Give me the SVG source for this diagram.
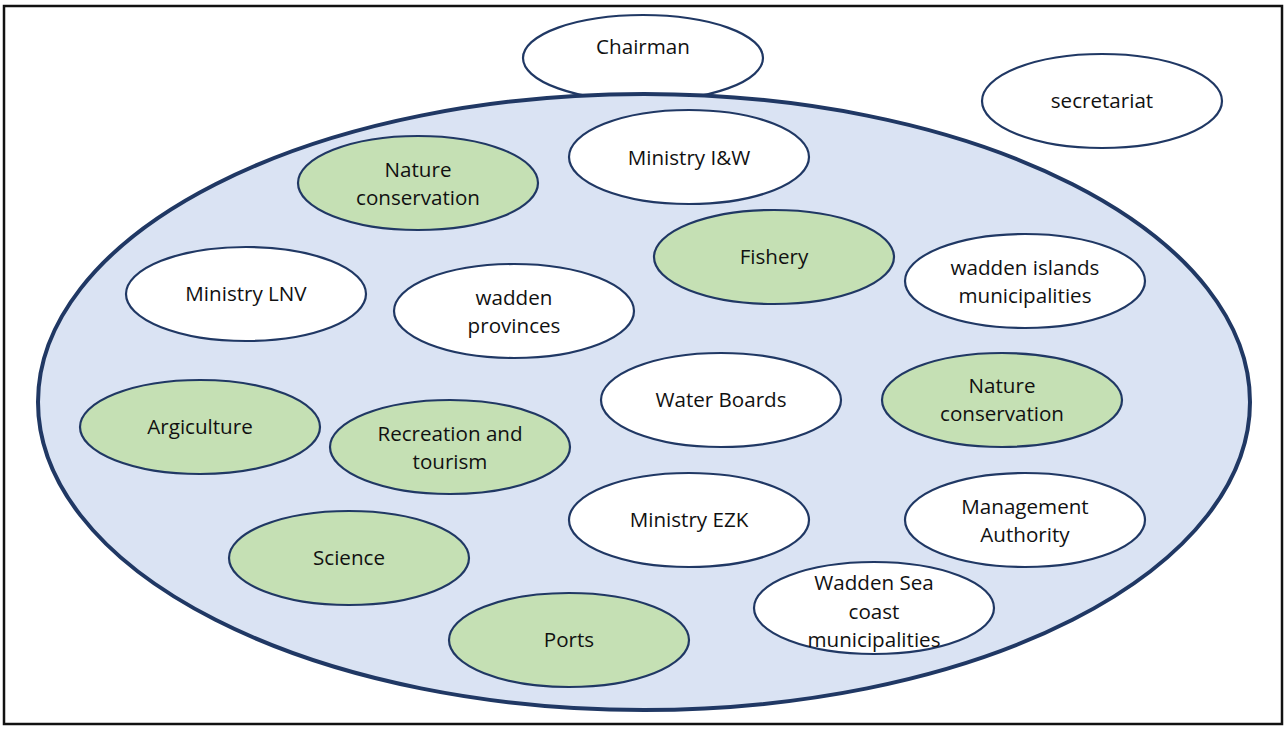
<svg xmlns="http://www.w3.org/2000/svg" width="1286" height="731" viewBox="0 0 1286 731">
<style>
.n ellipse{stroke:#203864;stroke-width:2.2}
.w{fill:#ffffff}
.g{fill:#c5e0b4}
text{font-family:"Open Sans","Liberation Sans",sans-serif;font-size:20.6px;fill:#111;text-anchor:middle}
</style>
<rect x="4" y="6" width="1278" height="718" fill="#fff" stroke="#111" stroke-width="2.5"/>
<g id="chairman" class="n"><ellipse class="w" cx="643" cy="58" rx="120" ry="43"/><text x="643" y="54">Chairman</text></g>
<g id="board"><ellipse cx="644" cy="402" rx="606" ry="308" fill="#dae3f3" stroke="#203864" stroke-width="4"/></g>
<g id="secretariat" class="n"><ellipse class="w" cx="1102" cy="101" rx="120" ry="47"/><text x="1102" y="108">secretariat</text></g>
<g id="ministry-iw" class="n"><ellipse class="w" cx="689" cy="157" rx="120" ry="47"/><text x="689" y="165">Ministry I&amp;W</text></g>
<g id="nature1" class="n"><ellipse class="g" cx="418" cy="183" rx="120" ry="47"/><text x="418" y="177">Nature</text><text x="418" y="205">conservation</text></g>
<g id="fishery" class="n"><ellipse class="g" cx="774" cy="257" rx="120" ry="47"/><text x="774" y="264">Fishery</text></g>
<g id="islands" class="n"><ellipse class="w" cx="1025" cy="281" rx="120" ry="47"/><text x="1025" y="275">wadden islands</text><text x="1025" y="303">municipalities</text></g>
<g id="ministry-lnv" class="n"><ellipse class="w" cx="246" cy="294" rx="120" ry="47"/><text x="246" y="301">Ministry LNV</text></g>
<g id="provinces" class="n"><ellipse class="w" cx="514" cy="311" rx="120" ry="47"/><text x="514" y="305">wadden</text><text x="514" y="333">provinces</text></g>
<g id="water-boards" class="n"><ellipse class="w" cx="721" cy="400" rx="120" ry="47"/><text x="721" y="407">Water Boards</text></g>
<g id="nature2" class="n"><ellipse class="g" cx="1002" cy="400" rx="120" ry="47"/><text x="1002" y="393">Nature</text><text x="1002" y="421">conservation</text></g>
<g id="agriculture" class="n"><ellipse class="g" cx="200" cy="427" rx="120" ry="47"/><text x="200" y="434">Argiculture</text></g>
<g id="recreation" class="n"><ellipse class="g" cx="450" cy="447" rx="120" ry="47"/><text x="450" y="441">Recreation and</text><text x="450" y="469">tourism</text></g>
<g id="ministry-ezk" class="n"><ellipse class="w" cx="689" cy="520" rx="120" ry="47"/><text x="689" y="527">Ministry EZK</text></g>
<g id="management" class="n"><ellipse class="w" cx="1025" cy="520" rx="120" ry="47"/><text x="1025" y="514">Management</text><text x="1025" y="542">Authority</text></g>
<g id="science" class="n"><ellipse class="g" cx="349" cy="558" rx="120" ry="47"/><text x="349" y="565">Science</text></g>
<g id="coast" class="n"><ellipse class="w" cx="874" cy="608" rx="120" ry="46"/><text x="874" y="590">Wadden Sea</text><text x="874" y="619">coast</text><text x="874" y="647">municipalities</text></g>
<g id="ports" class="n"><ellipse class="g" cx="569" cy="640" rx="120" ry="47"/><text x="569" y="647">Ports</text></g>
<g id="connectors"></g>
</svg>
